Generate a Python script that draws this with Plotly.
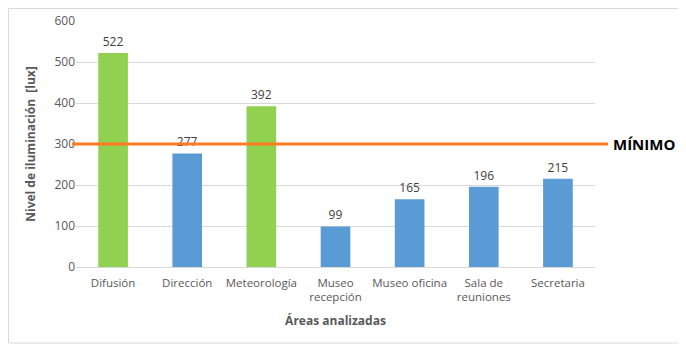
import plotly.graph_objects as go

categories = ["Difusión", "Dirección", "Meteorología", "Museo<br>recepción",
              "Museo oficina", "Sala de<br>reuniones", "Secretaria"]
values = [522, 277, 392, 99, 165, 196, 215]
colors = ["#92D050", "#5B9BD5", "#92D050", "#5B9BD5", "#5B9BD5", "#5B9BD5", "#5B9BD5"]
minimo = 300
y_ticks = [0, 100, 200, 300, 400, 500, 600]

FONT = "Open Sans"
OFF = 8  # page body margin
W, H = 686 - OFF, 349 - OFF
L, T = 76 - OFF, 21 - OFF
pw, ph = 519, 246
R, B = W - L - pw, H - T - ph

def px_x(p):
    return (p - OFF - L) / pw

def px_y(p):
    return (T + ph - (p - OFF)) / ph

fig = go.Figure()
fig.add_trace(go.Bar(
    x=categories, y=values, marker=dict(color=colors, line=dict(width=0)),
    width=0.4, text=[str(v) for v in values], textposition="outside",
    textfont=dict(family=FONT, size=12, color="#404040"),
    cliponaxis=False, hoverinfo="skip",
))

fig.update_layout(
    width=W, height=H,
    margin=dict(l=L, r=R, t=T, b=B),
    paper_bgcolor="white", plot_bgcolor="white",
    showlegend=False,
    font=dict(family=FONT, size=12, color="#595959"),
    xaxis=dict(
        automargin=False,
        tickfont=dict(family=FONT, size=11.5, color="#595959"),
        showgrid=False, showline=False, ticks="", ticklabelstandoff=7,
        title=dict(text="<b>Áreas analizadas</b>",
                   font=dict(family=FONT, size=12, color="#595959"), standoff=13),
    ),
    yaxis=dict(
        automargin=False,
        range=[0, 600], tickvals=y_ticks,
        tickfont=dict(family=FONT, size=12, color="#595959"),
        showgrid=True, gridcolor="#D9D9D9", gridwidth=1,
        zeroline=True, zerolinecolor="#D9D9D9", zerolinewidth=1,
        showline=False, ticks="", ticklen=0,
        title=dict(text="<b>Nivel de iluminación  [lux]</b>",
                   font=dict(family=FONT, size=12, color="#595959"), standoff=16),
    ),
    shapes=[
        dict(type="line", xref="paper", yref="y", x0=px_x(72), x1=px_x(608),
             y0=minimo, y1=minimo, line=dict(color="#FF7A21", width=3), layer="above"),
        dict(type="rect", xref="paper", yref="paper",
             x0=px_x(OFF + 0.5), x1=px_x(682), y0=px_y(343), y1=px_y(OFF + 0.5),
             line=dict(color="#D9D9D9", width=1), layer="below"),
    ],
    annotations=[
        dict(text="<b>MÍNIMO</b>", xref="paper", yref="y", x=px_x(611), y=minimo,
             xanchor="left", yanchor="middle", showarrow=False,
             font=dict(family=FONT, size=15, color="#000000")),
    ],
)

fig.write_html("out.html")
